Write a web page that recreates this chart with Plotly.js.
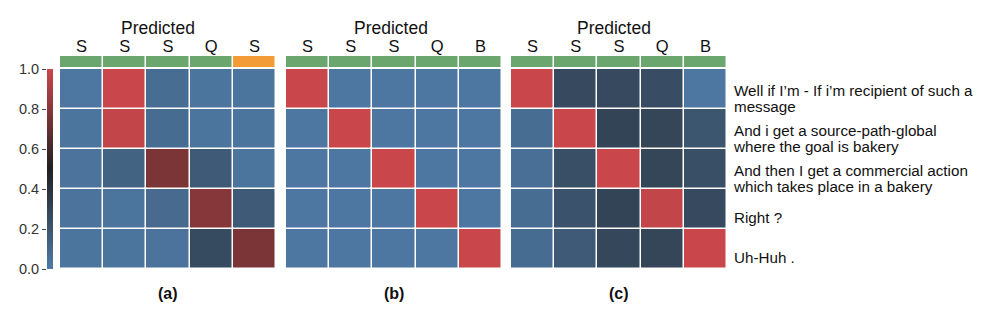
<!DOCTYPE html>
<html>
<head>
<meta charset="utf-8">
<script src="https://cdn.plot.ly/plotly-3.0.1.min.js"></script>
<style>html,body{margin:0;padding:0;background:#fff;}#chart{width:981px;height:314px;}</style>
</head>
<body>
<div id="chart"></div>
<script>
// ---- data ----
const predA = ['S', 'S', 'S', 'Q', 'S'];
const predB = ['S', 'S', 'S', 'Q', 'B'];
const predC = ['S', 'S', 'S', 'Q', 'B'];
const stripA = [0, 0, 0, 0, 1];
const stripB = [0, 0, 0, 0, 0];
const stripC = [0, 0, 0, 0, 0];
const utterances = [
  ['Well if I’m - If i’m recipient of such a', 'message'],
  ['And i get a source-path-global', 'where the goal is bakery'],
  ['And then I get a commercial action', 'which takes place in a bakery'],
  ['Right ?'],
  ['Uh-Huh .']
];
const zA = [
  [0.02, 1.00, 0.07, 0.03, 0.03],
  [0.03, 0.98, 0.08, 0.03, 0.03],
  [0.04, 0.13, 0.77, 0.18, 0.03],
  [0.04, 0.03, 0.09, 0.80, 0.18],
  [0.03, 0.03, 0.04, 0.26, 0.77]
];
const zB = [
  [1.00, 0.02, 0.02, 0.02, 0.02],
  [0.02, 1.00, 0.02, 0.02, 0.02],
  [0.02, 0.02, 1.00, 0.02, 0.02],
  [0.02, 0.02, 0.02, 1.00, 0.02],
  [0.02, 0.02, 0.02, 0.02, 1.00]
];
const zC = [
  [1.00, 0.27, 0.27, 0.25, 0.02],
  [0.07, 1.00, 0.30, 0.29, 0.20],
  [0.06, 0.24, 1.00, 0.29, 0.24],
  [0.07, 0.22, 0.30, 0.98, 0.27],
  [0.08, 0.18, 0.28, 0.29, 1.00]
];
const panelLabels = ['(a)', '(b)', '(c)'];
const axisTitle = 'Predicted';
const cbTicks = [0.0, 0.2, 0.4, 0.6, 0.8, 1.0];

// ---- layout helpers (pixel -> paper) ----
const W = 981, H = 314;
const px = v => v / W;
const py = v => 1 - v / H;
const mainY = [py(269), py(69)];
const stripY = [py(67), py(56)];
const panelsX = [[px(60), px(276)], [px(286), px(502)], [px(511), px(727)]];
const titleShift = [-10, -3, -5];
const idx = predA.map((_, i) => i);
const rows = zA.map((_, i) => i);

// utterance line positions within each row (row units)
const lineVals = [], lineText = [];
utterances.forEach((lines, r) => {
  if (lines.length === 1) {
    lineVals.push(r + 0.22); lineText.push(lines[0]);
  } else {
    lineVals.push(r + 0.05); lineText.push(lines[0]);
    lineVals.push(r + 0.44); lineText.push(lines[1]);
  }
});

const FONT = 'Liberation Sans, Arial, Helvetica, sans-serif';
const colorscale = [[0, '#4f7aa6'], [0.5, '#202020'], [1, '#c9474b']];
const stripScale = [[0, '#6aa66e'], [1, '#f39b37']];

const mats = [zA, zB, zC];
const preds = [predA, predB, predC];
const strips = [stripA, stripB, stripC];
const traces = [];
const layout = {
  width: W, height: H,
  margin: {l: 0, r: 0, t: 0, b: 0},
  paper_bgcolor: '#ffffff', plot_bgcolor: '#ffffff',
  font: {family: FONT, color: '#111'},
  showlegend: false,
  coloraxis: {
    cmin: 0, cmax: 1, colorscale: colorscale,
    colorbar: {
      thickness: 6, thicknessmode: 'pixels',
      len: 200, lenmode: 'pixels',
      x: px(47), xanchor: 'left', xref: 'paper',
      y: py(69), yanchor: 'top', yref: 'paper',
      showticklabels: false, ticks: '', outlinewidth: 0,
      xpad: 0, ypad: 0
    }
  },
  annotations: []
};

for (let p = 0; p < 3; p++) {
  const n = p + 1;
  const xa = n === 1 ? 'x' : 'x' + n;
  const ya = n === 1 ? 'y' : 'y' + n;
  const sy = 'y' + (n + 4);
  traces.push({
    type: 'heatmap', z: mats[p], x: idx, y: rows,
    xaxis: xa, yaxis: ya, coloraxis: 'coloraxis',
    xgap: 1.5, ygap: 1.5, hoverinfo: 'z'
  });
  traces.push({
    type: 'heatmap', z: [strips[p]], x: idx, y: [0],
    xaxis: xa, yaxis: sy, colorscale: stripScale, zmin: 0, zmax: 1,
    showscale: false, xgap: 1.5, hoverinfo: 'skip'
  });
  layout[n === 1 ? 'xaxis' : 'xaxis' + n] = {
    domain: panelsX[p], anchor: sy, side: 'top',
    range: [-0.5, 4.5], tickvals: idx, ticktext: preds[p],
    ticks: '', showgrid: false, zeroline: false, showline: false,
    tickfont: {size: 16.5, color: '#111', family: FONT}
  };
  const yax = {
    domain: mainY, anchor: xa, range: [4.5, -0.5],
    showgrid: false, zeroline: false, showline: false, ticks: ''
  };
  if (p === 2) {
    yax.side = 'right';
    yax.tickvals = lineVals;
    yax.ticktext = lineText;
    yax.tickfont = {size: 15.2, color: '#111', family: FONT};
    yax.ticklabelstandoff = 6;
  } else {
    yax.showticklabels = false;
  }
  layout[n === 1 ? 'yaxis' : 'yaxis' + n] = yax;
  layout['yaxis' + (n + 4)] = {
    domain: stripY, anchor: xa, range: [-0.5, 0.5],
    showticklabels: false, showgrid: false, zeroline: false, showline: false, ticks: ''
  };
  layout.annotations.push({
    text: axisTitle, xref: xa + ' domain', x: 0.5, xshift: titleShift[p],
    yref: 'paper', y: py(28), yanchor: 'middle', xanchor: 'center',
    showarrow: false, font: {size: 17.5, color: '#111', family: FONT}
  });
  layout.annotations.push({
    text: '<b>' + panelLabels[p] + '</b>', xref: xa + ' domain', x: 0.5,
    yref: 'paper', y: py(293), yanchor: 'middle', xanchor: 'center',
    showarrow: false, font: {size: 16, color: '#111', family: FONT}
  });
}

// colorbar tick axis (left of the colorbar)
traces.push({type: 'scatter', x: [], y: [], xaxis: 'x4', yaxis: 'y4', hoverinfo: 'skip', showlegend: false});
layout.xaxis4 = {domain: [px(47), px(53)], anchor: 'y4', visible: false, range: [0, 1]};
layout.yaxis4 = {
  domain: mainY, anchor: 'x4', side: 'left', range: [0, 1],
  tickvals: cbTicks, ticktext: cbTicks.map(v => v.toFixed(1)),
  ticks: 'outside', ticklen: 4, tickwidth: 1, tickcolor: '#444',
  showgrid: false, zeroline: false, showline: false,
  tickfont: {size: 14.5, color: '#333', family: FONT}
};

Plotly.newPlot('chart', traces, layout, {displayModeBar: false, staticPlot: true});
</script>
</body>
</html>
